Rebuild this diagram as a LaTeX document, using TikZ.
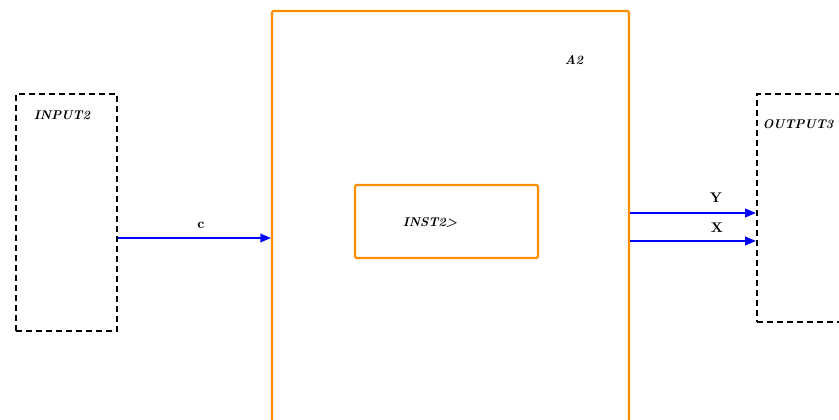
\documentclass[tikz,border=0pt]{standalone}
\usetikzlibrary{arrows.meta}
\definecolor{blkorange}{RGB}{255,140,0}
\begin{document}
\begin{tikzpicture}[x=0.75pt, y=-0.75pt,
  port/.style={draw=black, line width=1.7pt, dash pattern=on 4.5pt off 3pt, inner sep=0pt},
  blk/.style={draw=blkorange, line width=1.6pt, rounded corners=1pt, inner sep=0pt},
  lbl/.style={font=\fontsize{9.5}{10}\selectfont\bfseries\itshape, inner sep=0pt},
  sig/.style={draw=blue, line width=1.1pt, -{Triangle[length=8pt, width=6.5pt]}},
  sl/.style={font=\fontsize{10.5}{11}\selectfont\bfseries, inner sep=0pt}]
\useasboundingbox (0,0) rectangle (839,419);
\node[port, minimum width=75.75pt, minimum height=177.75pt] (in2) at (66.5,212.5) {};
\node[port, minimum width=77.25pt, minimum height=171pt] (out3) at (808.5,208) {};
\node[blk, minimum width=267.75pt, minimum height=329.25pt] (a2) at (450.5,230.5) {};
\node[blk, minimum width=137.25pt, minimum height=54.75pt] (inst2) at (446.5,221.5) {};
\node[lbl] at (62,115) {INPUT2};
\node[lbl] at (798,124) {OUTPUT3};
\node[lbl] at (574,60) {A2};
\node[lbl] at (430,223) {INST2>};
% signals between the blocks
\coordinate (cin) at (0,238);
\coordinate (yin) at (0,213);
\coordinate (xin) at (0,241);
\draw[sig] (in2.east |- cin) -- (a2.west |- cin);
\draw[sig] (a2.east |- yin) -- (out3.west |- yin);
\draw[sig] (a2.east |- xin) -- (out3.west |- xin);
\node[sl] at (201,225) {c};
\node[sl] at (716,198) {Y};
\node[sl] at (717,228) {X};
\end{tikzpicture}
\end{document}
